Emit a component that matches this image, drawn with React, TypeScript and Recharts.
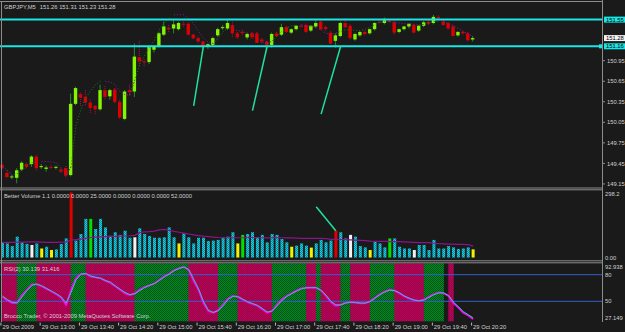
import React from "react";
import { ComposedChart, Bar, Line, XAxis, YAxis, ReferenceLine } from "recharts";

// ---------------- data ----------------
const tickLabels = [
  "29 Oct 2009", "29 Oct 13:00", "29 Oct 13:40", "29 Oct 14:20", "29 Oct 15:00",
  "29 Oct 15:40", "29 Oct 16:20", "29 Oct 17:00", "29 Oct 17:40", "29 Oct 18:20",
  "29 Oct 19:00", "29 Oct 19:40", "29 Oct 20:20",
];

const open = [
  149.43, 149.31, 149.25, 149.24, 149.36, 149.44, 149.44, 149.55, 149.40, 149.37,
  149.40, 149.39, 149.36, 149.38, 149.28, 150.32, 150.46, 150.42, 150.34, 150.29,
  150.24, 150.52, 150.43, 150.53, 150.35, 150.10, 150.52, 150.50, 151.00, 150.94,
  150.93, 151.11, 151.16, 151.33, 151.43, 151.42, 151.41, 151.49, 151.49, 151.33,
  151.28, 151.23, 151.16, 151.18, 151.32, 151.43, 151.42, 151.47, 151.35, 151.37,
  151.29, 151.35, 151.35, 151.26, 151.23, 151.18, 151.35, 151.33, 151.44, 151.36,
  151.41, 151.46, 151.47, 151.39, 151.45, 151.52, 151.44, 151.36, 151.24, 151.31,
  151.50, 151.46, 151.26, 151.32, 151.37, 151.35, 151.41, 151.52, 151.50, 151.53,
  151.51, 151.37, 151.41, 151.45, 151.47, 151.39, 151.46, 151.52, 151.50, 151.59,
  151.52, 151.50, 151.45, 151.32, 151.37, 151.35, 151.26,
];
const high = [
  149.47, 149.35, 149.28, 149.38, 149.48, 149.46, 149.57, 149.57, 149.44, 149.42,
  149.42, 149.42, 149.38, 149.41, 150.47, 150.57, 150.48, 150.52, 150.38, 150.30,
  150.60, 150.58, 150.54, 150.55, 150.38, 150.52, 150.60, 151.20, 151.24, 150.97,
  151.17, 151.18, 151.37, 151.52, 151.47, 151.54, 151.52, 151.52, 151.51, 151.34,
  151.30, 151.24, 151.20, 151.30, 151.43, 151.47, 151.55, 151.52, 151.37, 151.40,
  151.36, 151.37, 151.37, 151.28, 151.24, 151.36, 151.37, 151.49, 151.46, 151.42,
  151.47, 151.48, 151.49, 151.47, 151.54, 151.53, 151.46, 151.38, 151.35, 151.52,
  151.53, 151.48, 151.36, 151.38, 151.39, 151.42, 151.51, 151.55, 151.58, 151.55,
  151.53, 151.42, 151.46, 151.49, 151.49, 151.47, 151.53, 151.54, 151.62, 151.61,
  151.54, 151.51, 151.47, 151.38, 151.38, 151.37, 151.31,
];
const low = [
  149.35, 149.23, 149.22, 149.16, 149.34, 149.37, 149.40, 149.35, 149.37, 149.33,
  149.37, 149.36, 149.31, 149.23, 149.26, 150.30, 150.28, 150.29, 150.18, 150.17,
  150.22, 150.38, 150.38, 150.33, 150.10, 150.08, 150.43, 150.42, 150.86, 150.86,
  150.90, 151.07, 151.14, 151.31, 151.36, 151.35, 151.39, 151.44, 151.31, 151.26,
  151.19, 151.14, 151.12, 151.16, 151.30, 151.40, 151.40, 151.30, 151.27, 151.33,
  151.26, 151.27, 151.20, 151.20, 151.15, 151.14, 151.30, 151.31, 151.36, 151.34,
  151.39, 151.43, 151.36, 151.37, 151.43, 151.40, 151.39, 151.19, 151.14, 151.29,
  151.43, 151.26, 151.24, 151.30, 151.32, 151.33, 151.39, 151.49, 151.48, 151.51,
  151.34, 151.35, 151.39, 151.42, 151.34, 151.37, 151.44, 151.47, 151.48, 151.55,
  151.46, 151.41, 151.29, 151.30, 151.32, 151.23, 151.23,
];
const close = [
  149.38, 149.25, 149.26, 149.35, 149.46, 149.40, 149.55, 149.38, 149.41, 149.39,
  149.39, 149.40, 149.33, 149.27, 150.32, 150.55, 150.41, 150.34, 150.26, 150.24,
  150.52, 150.42, 150.52, 150.35, 150.12, 150.50, 150.49, 151.01, 150.94, 150.93,
  151.15, 151.15, 151.35, 151.45, 151.41, 151.48, 151.50, 151.48, 151.33, 151.28,
  151.23, 151.15, 151.19, 151.28, 151.41, 151.44, 151.50, 151.35, 151.29, 151.35,
  151.34, 151.29, 151.21, 151.23, 151.18, 151.34, 151.31, 151.44, 151.37, 151.41,
  151.46, 151.45, 151.37, 151.46, 151.50, 151.41, 151.41, 151.20, 151.32, 151.50,
  151.44, 151.28, 151.34, 151.37, 151.34, 151.41, 151.50, 151.51, 151.54, 151.52,
  151.36, 151.41, 151.45, 151.49, 151.36, 151.46, 151.51, 151.49, 151.59, 151.57,
  151.47, 151.42, 151.31, 151.37, 151.35, 151.25, 151.28,
];

// dotted moving average over price; "u" = rising (green), "d" = falling (purple)
const priceMA = [
  149.40, 149.35, 149.28, 149.30, 149.35, 149.41, 149.46, 149.47, 149.475, 149.48,
  149.47, 149.46, 149.38, 149.28, 149.40, 150.01, 150.23, 150.41, 150.51, 150.60,
  150.65, 150.65, 150.64, 150.60, 150.50, 150.45, 150.45, 150.67, 150.90, 151.02,
  151.14, 151.25, 151.40, 151.50, 151.58, 151.62, 151.62, 151.62, 151.57, 151.49,
  151.38, 151.28, 151.22, 151.20, 151.28, 151.37, 151.42, 151.41, 151.39, 151.38,
  151.35, 151.33, 151.28, 151.22, 151.19, 151.24, 151.31, 151.38, 151.43, 151.46,
  151.47, 151.47, 151.46, 151.45, 151.43, 151.40, 151.35, 151.34, 151.35, 151.38,
  151.40, 151.40, 151.39, 151.39, 151.41, 151.44, 151.48, 151.51, 151.52, 151.52,
  151.51, 151.50, 151.49, 151.49, 151.48, 151.47, 151.48, 151.50, 151.52, 151.53,
  151.52, 151.49, 151.46, 151.42, 151.38, 151.34, 151.30,
];
const priceMADir =
  "dd" + "uuuuuu" + "dddddd" + "uuuuuuu" + "dddddd" + "uuuuuuuu" + "ddddddddd" + "uuu" +
  "dddddddd" + "uuuuuu" + "dddddddd" + "uuuuuuuuuu" + "ddddddd" + "uuuu" + "ddddddd";

const priceTicks = [149.15, 149.45, 149.75, 150.05, 150.35, 150.65, 150.95];
const levelLines = [151.55, 151.16];
const lastPrice = 151.28;
const priceDomain = [149.091, 151.807];

// drawn trend lines (bar index, price)
const trendLines = [
  { i1: 39, p1: 150.29, i2: 41, p2: 151.165 },
  { i1: 51, p1: 150.22, i2: 54, p2: 151.165 },
  { i1: 65, p1: 150.17, i2: 69, p2: 151.165 },
];

const volume = [
  70, 65, 53, 96, 70, 63, 58, 65, 42, 50,
  35, 38, 63, 88, 298.2, 78, 108, 177, 177, 131,
  177, 138, 100, 116, 104, 123, 91, 93, 134, 108,
  99, 91, 91, 93, 138, 93, 65, 111, 93, 65,
  91, 91, 76, 78, 81, 91, 96, 116, 65, 104,
  108, 116, 93, 104, 70, 108, 104, 85, 70, 50,
  55, 65, 55, 46, 65, 81, 70, 78, 123, 116,
  88, 104, 96, 53, 47, 35, 73, 65, 47, 88,
  88, 50, 42, 42, 35, 58, 58, 35, 81, 42,
  42, 53, 47, 40, 42, 47, 38,
];
const volumeColors =
  "cccccc" + "w" + "c" + "y" + "c" + "y" + "ccc" + "r" + "ccc" + "g" + "cccccccc" + "w" +
  "cccccccc" + "y" + "ccccccccccc" + "y" + "g" + "ccccccccc" + "y" + "ccc" + "y" + "cccc" +
  "r" + "cc" + "w" + "ccc" + "y" + "ccc" + "g" + "cccc" + "w" + "ccccccccccc" + "y";
const volumeMA = [
  70, 70, 70, 71, 71, 72, 72, 72, 71, 70,
  70, 70, 71, 72, 80, 82, 85, 88, 92, 94,
  95, 96, 97, 97, 98, 99, 100, 102, 114, 118,
  119, 121, 127, 129, 125, 120, 116, 112, 108, 104,
  101, 98, 96, 94, 92, 91, 91, 91, 91, 91,
  92, 92, 91, 91, 90, 91, 92, 91, 90, 90,
  89, 88, 88, 88, 88, 88, 87, 84, 84, 83,
  82, 81, 80, 79, 78, 76, 75, 74, 74, 73,
  73, 73, 72, 71, 70, 69, 69, 69, 66, 64,
  63, 62, 62, 61, 61, 60, 53,
];
const volumeMax = 298.2;
const volumeTrend = { i1: 64, v1: 232, i2: 68, v2: 123 };

const rsiMain = [
  55, 51, 48, 48.5, 57, 63, 69, 69, 67, 64,
  61, 58, 54, 46, 63, 76, 81, 81, 78, 77,
  76, 73, 71, 67, 63, 59, 57, 59, 63, 66,
  68, 70, 74, 78, 81, 85, 87, 89, 85, 73,
  63, 48, 39, 37, 40, 46, 53, 56, 55, 52,
  49, 47, 45, 41, 37, 39, 46, 52, 56, 59,
  62, 64.5, 65.4, 65.4, 65.4, 62, 56, 49, 45, 46,
  48.5, 49, 48.5, 47.7, 48, 50, 54, 58, 61, 63,
  62, 59, 55.5, 53, 51, 50.5, 52, 55, 58, 60,
  59, 56, 48, 43, 37, 34, 30.139,
];
const rsiSignal = [
  56, 52, 49, 48, 55, 62, 68, 69.5, 67.5, 64.5,
  61.5, 58.5, 55, 48, 60, 74, 80.5, 81.5, 78.5, 77,
  76, 73.5, 71.5, 67.5, 63.5, 60, 57.5, 58.5, 62, 65.5,
  68, 70, 73.5, 77.5, 80.5, 84.5, 87, 88.5, 86, 75,
  64, 50, 40, 37.5, 39.5, 45, 52, 55.5, 55.5, 52.5,
  49.5, 47.5, 45.5, 42, 38, 39, 45, 51, 55.5, 58.5,
  61.5, 64, 65.2, 65.4, 65.4, 62.5, 57, 50, 46, 46,
  48, 49, 48.7, 48, 48, 49.5, 53.5, 57.5, 60.5, 62.5,
  62, 59.5, 56, 53.5, 51.5, 50.5, 51.5, 54.5, 57.5, 59.5,
  59.5, 56.5, 49, 44, 38.5, 35, 31.416,
];
const rsiZones =
  "rrr" + "gggg" + "rrrrrrr" + "ggg" + "rrrrrrrrrr" + "ggggggggggg" + "rrrrrr" + "gggg" +
  "rrrrrrr" + "ggggggg" + "rr" + "g" + "rrrr" + "gg" + "rrrr" + "ggggg" + "rrrrrr" + "gggg" +
  "n" + "r" + "nnnnn";
const rsiDomain = [27.149, 92.938];
const rsiLevels = [80, 50];

// ---------------- build table ----------------
const SLOTS = 123;
const N = open.length;
const slotKey = (i: number) => {
  const m = 12 * 60 + 20 + 5 * i;
  const hh = String(Math.floor(m / 60)).padStart(2, "0");
  const mm = String(m % 60).padStart(2, "0");
  return hh + ":" + mm;
};
const data = Array.from({ length: SLOTS }, (_, i) => {
  const has = i < N;
  const up = priceMADir[i] === "u";
  const nextUp = priceMADir[i + 1] === "u";
  const prevUp = priceMADir[i - 1] === "u";
  return {
    t: slotKey(i),
    candle: has ? [low[i], high[i]] : null,
    o: has ? open[i] : null,
    h: has ? high[i] : null,
    l: has ? low[i] : null,
    c: has ? close[i] : null,
    maUp: has && (up || nextUp) ? priceMA[i] : null,
    maDn: has && (!up || (i > 0 && !prevUp)) ? priceMA[i] : null,
    vol: has ? volume[i] : null,
    vcol: has ? volumeColors[i] : null,
    vma: has ? volumeMA[i] : null,
    rsiA: has ? rsiMain[i] : null,
    rsiB: has ? rsiSignal[i] : null,
    zone: has && rsiZones[i] !== "n" ? [rsiDomain[0], rsiDomain[1]] : null,
    zc: has ? rsiZones[i] : null,
  };
});
const tickKeys = tickLabels.map((_, k) => slotKey(k * 8));

// ---------------- styles ----------------
const BG = "#1a1a1a";
const FONT = "'Liberation Sans', Arial, sans-serif";
const FS = 5.8;
const TXT = "#d0d0d0";
const FRAME = "#8c8c8c";
const CYAN = "#19e6e6";
const TREND = "#1ee39a";
const BODY_UP = "#84f500";
const BODY_DN = "#dc0000";
const WICK_UP = "#2a8a22";
const WICK_DN = "#b0105a";
const BG_SHIFT = 2.2;

const Candle = (p: any) => {
  const { x, y, width, height, payload } = p;
  if (payload == null || payload.o == null) return null;
  const { o, h, l, c } = payload;
  const top0 = Math.min(y, y + height);
  const hh = Math.abs(height);
  const span = h - l || 1;
  const py = (v: number) => top0 + ((h - v) / span) * hh;
  const up = c >= o;
  const cx = x + width / 2;
  const bt = py(Math.max(o, c));
  const bb = py(Math.min(o, c));
  const bh = Math.max(bb - bt, 1);
  return (
    <g>
      <line x1={cx} x2={cx} y1={top0} y2={top0 + hh} stroke={up ? WICK_UP : WICK_DN} strokeWidth={1}
        strokeDasharray={up ? undefined : "1 1"} />
      <rect x={cx - 1.7} y={bt} width={3.4} height={bh} fill={up ? BODY_UP : BODY_DN} />
    </g>
  );
};

const volFill: Record<string, string> = {
  c: "url(#volPat)",
  r: "#e00000",
  w: "#f2f2f2",
  y: "#f2f200",
  g: "#00e000",
};
const VolBar = (p: any) => {
  const { x, y, width, height, payload } = p;
  if (payload == null || payload.vol == null) return null;
  const top0 = Math.min(y, y + height);
  return <rect x={x} y={top0} width={width} height={Math.abs(height)} fill={volFill[payload.vcol] || "#20b8c8"} />;
};

const ZoneBar = (p: any) => {
  const { x, y, width, height, payload } = p;
  if (payload == null || payload.zone == null) return null;
  const top0 = Math.min(y, y + height);
  return (
    <rect x={x + BG_SHIFT} y={top0} width={width + 0.4} height={Math.abs(height)}
      fill={payload.zc === "r" ? "url(#redPat)" : "url(#greenPat)"} />
  );
};

const PriceTick = (p: any) => {
  const v = p.payload.value;
  const x = p.x;
  const y = p.y;
  const label = Number(v).toFixed(2);
  if (levelLines.includes(v) || v === lastPrice) {
    const fill = v === lastPrice ? "#f4f4f4" : CYAN;
    return (
      <g>
        {v !== lastPrice && v === levelLines[1] ? <rect x={x - 4} y={y - 2} width={4} height={4} fill={CYAN} /> : null}
        <rect x={x + 1} y={y - 3} width={21} height={6} fill={fill} />
        <text x={x + 3} y={y + 2.1} fontSize={FS} fontFamily={FONT} fill="#000">{label}</text>
      </g>
    );
  }
  return (
    <g>
      <line x1={x} x2={x + 2} y1={y} y2={y} stroke={FRAME} />
      <text x={x + 4} y={y + 2.1} fontSize={FS} fontFamily={FONT} fill={TXT}>{label}</text>
    </g>
  );
};

const VolTick = (p: any) => {
  const v = p.payload.value;
  const isTop = v === volumeMax;
  return (
    <text x={p.x + 2} y={p.y + (isTop ? 3.8 : 1.8)} fontSize={FS} fontFamily={FONT} fill={TXT}>
      {isTop ? String(v) : "0.00"}
    </text>
  );
};

const RsiTick = (p: any) => {
  const v = p.payload.value;
  let dy = 2;
  if (v === rsiDomain[1]) dy = 5.5;
  if (v === rsiDomain[0]) dy = -1.3;
  const label = Number.isInteger(v) ? String(v) : Number(v).toFixed(3);
  return (
    <text x={p.x + 2} y={p.y + dy} fontSize={FS} fontFamily={FONT} fill={TXT}>{label}</text>
  );
};

const TimeTick = (p: any) => {
  const { x, y, payload } = p;
  const idx = tickKeys.indexOf(payload.value);
  if (idx < 0) return null;
  return (
    <g>
      <line x1={x - 1.5} x2={x - 1.5} y1={y + 1} y2={y + 4} stroke="#b8b8b8" />
      <text x={x} y={y + 7.6} fontSize={FS} fontFamily={FONT} fill={TXT}>{tickLabels[idx]}</text>
    </g>
  );
};

export default function App() {
  const common = { width: 625, data };
  return (
    <div style={{ position: "relative", width: 625, height: 332, background: BG, overflow: "hidden" }}>
      <style>{`body{margin:0;background:${BG}}`}</style>
      <svg width={0} height={0} style={{ position: "absolute" }}>
        <defs>
          <pattern id="volPat" width={2} height={2} patternUnits="userSpaceOnUse">
            <rect width={2} height={2} fill="#18cfe2" />
            <rect x={0} y={0} width={1} height={1} fill="#0a8ea4" />
            <rect x={1} y={1} width={1} height={1} fill="#0a8ea4" />
          </pattern>
          <pattern id="redPat" width={2} height={2} patternUnits="userSpaceOnUse">
            <rect width={2} height={2} fill="#d40018" />
            <rect x={1} y={0} width={1} height={1} fill="#80088a" />
            <rect x={0} y={1} width={1} height={1} fill="#80088a" />
          </pattern>
          <pattern id="greenPat" width={2} height={2} patternUnits="userSpaceOnUse">
            <rect width={2} height={2} fill="#008a20" />
            <rect x={0} y={0} width={1} height={1} fill="#005418" />
            <rect x={1} y={1} width={1} height={1} fill="#005418" />
          </pattern>
        </defs>
      </svg>

      {/* price panel */}
      <div style={{ position: "absolute", left: 0, top: 0 }}>
        <ComposedChart {...common} height={190} margin={{ top: 2, right: 0, bottom: 2, left: 0 }}>
          <XAxis dataKey="t" hide />
          <YAxis orientation="right" width={22} type="number" domain={priceDomain} allowDataOverflow
            ticks={[...priceTicks, ...levelLines, lastPrice]} interval={0} tick={PriceTick}
            tickLine={false} axisLine={false} tickSize={0} tickMargin={0} />
          <Line dataKey="maUp" stroke="#1a7a1a" strokeWidth={1} strokeDasharray="1 2" dot={false}
            isAnimationActive={false} connectNulls={false} />
          <Line dataKey="maDn" stroke="#8a1a9a" strokeWidth={1} strokeDasharray="1 2" dot={false}
            isAnimationActive={false} connectNulls={false} />
          <Bar dataKey="candle" barSize={4} shape={Candle} isAnimationActive={false} />
          {levelLines.map((v) => (
            <ReferenceLine key={v} y={v} stroke={CYAN} strokeWidth={2} />
          ))}
          {trendLines.map((t, k) => (
            <ReferenceLine key={"tl" + k} stroke={TREND} strokeWidth={1.5}
              segment={[{ x: slotKey(t.i1), y: t.p1 }, { x: slotKey(t.i2), y: t.p2 }]} />
          ))}
        </ComposedChart>
      </div>

      {/* volume panel */}
      <div style={{ position: "absolute", left: 0, top: 190 }}>
        <ComposedChart {...common} height={70} margin={{ top: 2.3, right: 0, bottom: 2.3, left: 0 }}>
          <XAxis dataKey="t" hide />
          <YAxis orientation="right" width={22} type="number" domain={[0, volumeMax]} allowDataOverflow
            ticks={[0, volumeMax]} interval={0} tick={VolTick} tickLine={false} axisLine={false}
            tickSize={0} tickMargin={0} />
          <Bar dataKey="vol" barSize={3} shape={VolBar} isAnimationActive={false} />
          <Line dataKey="vma" stroke="#8a148a" strokeWidth={1.2} dot={false} isAnimationActive={false} />
          <ReferenceLine stroke={TREND} strokeWidth={1.5}
            segment={[{ x: slotKey(volumeTrend.i1), y: volumeTrend.v1 }, { x: slotKey(volumeTrend.i2), y: volumeTrend.v2 }]} />
        </ComposedChart>
      </div>

      {/* RSI panel */}
      <div style={{ position: "absolute", left: 0, top: 262 }}>
        <ComposedChart {...common} height={70} margin={{ top: 1.2, right: 0, bottom: 0.4, left: 0 }}
          barCategoryGap={0} barGap={0}>
          <XAxis dataKey="t" height={10} ticks={tickKeys} interval={0} tick={TimeTick}
            tickLine={false} axisLine={false} tickSize={0} tickMargin={0} />
          <YAxis orientation="right" width={22} type="number" domain={rsiDomain} allowDataOverflow
            ticks={[rsiDomain[0], ...rsiLevels, rsiDomain[1]]} interval={0} tick={RsiTick}
            tickLine={false} axisLine={false} tickSize={0} tickMargin={0} />
          <Bar dataKey="zone" shape={ZoneBar} isAnimationActive={false} />
          {rsiLevels.map((v) => (
            <ReferenceLine key={v} y={v} stroke="#3060d0" strokeWidth={1} />
          ))}
          <Line dataKey="rsiA" stroke="#ff00ff" strokeWidth={1.8} dot={false} isAnimationActive={false} />
          <Line dataKey="rsiB" stroke="#2cc4b4" strokeWidth={1} dot={false} isAnimationActive={false} />
        </ComposedChart>
      </div>

      {/* frame and captions */}
      <svg width={625} height={332} style={{ position: "absolute", left: 0, top: 0, pointerEvents: "none" }}>
        <g stroke={FRAME} strokeWidth={1}>
          <line x1={0} x2={602.5} y1={1.5} y2={1.5} />
          <line x1={1.5} x2={1.5} y1={1} y2={322} />
          <line x1={602.5} x2={602.5} y1={0} y2={322} />
          <line x1={0} x2={602.5} y1={188} y2={188} />
          <line x1={0} x2={602.5} y1={189.8} y2={189.8} />
          <line x1={0} x2={602.5} y1={260.8} y2={260.8} />
          <line x1={0} x2={602.5} y1={262.8} y2={262.8} />
        </g>
        <text x={4} y={8.5} fontSize={FS} fontFamily={FONT} fill={TXT}>
          <tspan>GBPJPY,M5</tspan>
          <tspan dx={4}>151.26 151.31 151.23 151.28</tspan>
        </text>
        <text x={4} y={197.6} fontSize={FS} fontFamily={FONT} fill={TXT}>
          Better Volume 1.1 0.0000 0.0000 25.0000 0.0000 0.0000 0.0000 52.0000
        </text>
        <text x={4} y={270.6} fontSize={FS} fontFamily={FONT} fill={TXT}>RSI(2) 30.139 31.416</text>
        <text x={4} y={318} fontSize={FS} fontFamily={FONT} fill={TXT}>
          Brocco Trader, © 2001-2009 MetaQuotes Software Corp.
        </text>
      </svg>
    </div>
  );
}
